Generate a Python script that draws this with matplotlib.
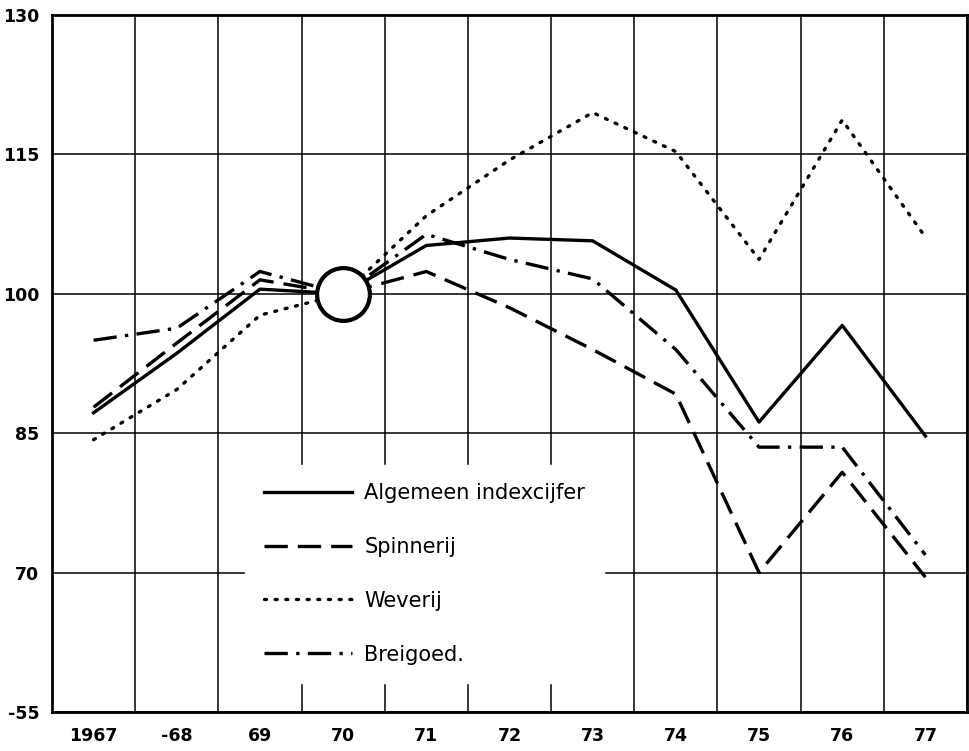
import matplotlib
matplotlib.use("Agg")
import matplotlib.pyplot as plt

# Indexcijfers textielproductie, 1970 = 100
jaren = [1967, 1968, 1969, 1970, 1971, 1972, 1973, 1974, 1975, 1976, 1977]
jaar_labels = ["1967", "-68", "69", "70", "71", "72", "73", "74", "75", "76", "77"]

algemeen = [87.2, 93.6, 100.5, 100, 105.2, 106.0, 105.7, 100.4, 86.2, 96.6, 84.7]
spinnerij = [87.8, 94.7, 101.5, 100, 102.4, 98.5, 94.0, 89.2, 70.0, 80.8, 69.5]
weverij = [84.3, 89.7, 97.7, 100, 108.4, 114.4, 119.5, 115.3, 103.7, 118.7, 106.1]
breigoed = [95.0, 96.3, 102.4, 100, 106.4, 103.7, 101.6, 94.0, 83.5, 83.5, 71.9]

y_ticks = [55, 70, 85, 100, 115, 130]
y_labels = ["-55", "70", "85", "100", "115", "130"]

fig = plt.figure(figsize=(9.69, 7.51), dpi=100)
ax = fig.add_axes([52 / 969, 1 - 712 / 751, 915 / 969, 697 / 751])

# raster op halve jaren, jaartallen in het midden van de vakken
for xg in range(len(jaren) + 1):
    ax.axvline(jaren[0] - 0.5 + xg, color="black", lw=1.1, zorder=1)
for yg in y_ticks:
    ax.axhline(yg, color="black", lw=1.1, zorder=1)

lw = 2.4
ax.plot(jaren, algemeen, color="black", lw=lw, ls="-", label="Algemeen indexcijfer", zorder=3)
ax.plot(jaren, spinnerij, color="black", lw=lw, ls=(0, (7, 3)), label="Spinnerij", zorder=3)
ax.plot(jaren, weverij, color="black", lw=lw, ls=(0, (0.6, 2.6)), dash_capstyle="round",
        label="Weverij", zorder=3)
ax.plot(jaren, breigoed, color="black", lw=lw, ls=(0, (7, 2.5, 1, 2.5)), label="Breigoed.", zorder=3)

# basisjaar 1970 = 100
ax.plot([1970], [100], marker="o", markersize=38, markerfacecolor="white",
        markeredgecolor="black", markeredgewidth=3, zorder=5)

ax.set_xlim(jaren[0] - 0.5, jaren[-1] + 0.5)
ax.set_ylim(55, 130)
ax.set_xticks(jaren)
ax.set_xticklabels(jaar_labels)
ax.set_yticks(y_ticks)
ax.set_yticklabels(y_labels)
ax.tick_params(length=0, labelsize=12.5)
ax.tick_params(axis="y", pad=9)
ax.tick_params(axis="x", pad=11)
for lab in ax.get_xticklabels() + ax.get_yticklabels():
    lab.set_fontweight("bold")
for s in ax.spines.values():
    s.set_linewidth(2)

leg = ax.legend(loc="upper left", bbox_to_anchor=(0.2, 0.37), frameon=True,
                fancybox=False, edgecolor="white", facecolor="white", framealpha=1,
                fontsize=15, handlelength=4.2, handletextpad=0.6, labelspacing=1.62,
                borderpad=0.9)
leg.set_zorder(4)

fig.savefig("out.png", dpi=100)
